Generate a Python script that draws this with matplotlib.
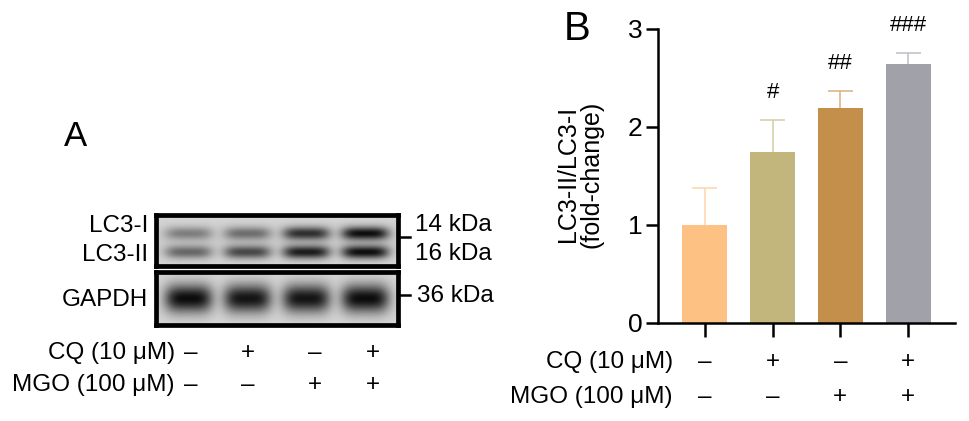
import numpy as np
import matplotlib
matplotlib.use("Agg")
import matplotlib.pyplot as plt
from matplotlib.colors import to_rgb
from matplotlib.transforms import blended_transform_factory

plt.rcParams['font.family'] = ['Liberation Sans', 'DejaVu Sans']

# ---------------- data ----------------
groups = ['Control', 'CQ', 'MGO', 'CQ+MGO']
cq_signs = ['\u2013', '+', '\u2013', '+']
mgo_signs = ['\u2013', '\u2013', '+', '+']
ratio_mean = [1.00, 1.75, 2.19, 2.64]
ratio_sd = [0.38, 0.32, 0.18, 0.12]
sig_marks = ['', '#', '##', '###']
bar_colors = ['#FDC183', '#C2B67C', '#C48F4B', '#A1A1A9']
yticks = [0, 1, 2, 3]

# blot band intensities (0 = no band, 1 = saturated)
lc3i_int = [0.40, 0.48, 0.80, 0.97]
lc3ii_int = [0.52, 0.68, 0.90, 0.97]
gapdh_int = [0.97, 0.93, 0.93, 0.97]
blot_rows = ['LC3-I', 'LC3-II']
kda_top = ['14 kDa', '16 kDa']
kda_bottom = '36 kDa'

W, H = 969, 421
fig = plt.figure(figsize=(W / 100, H / 100), dpi=100)


def px_axes(x0, y0, x1, y1):
    """axes from pixel box (top-left origin)"""
    return fig.add_axes([x0 / W, 1 - y1 / H, (x1 - x0) / W, (y1 - y0) / H])


def fx(x):
    return x / W


def fy(y):
    return 1 - y / H


def lighten(c, f):
    r = np.array(to_rgb(c))
    return tuple(r + (1 - r) * f)


# ---------------- panel B: bar chart ----------------
ax = px_axes(658, 29, 955, 323)
x = np.arange(len(groups))
ax.bar(x, ratio_mean, width=0.665, color=bar_colors, zorder=2)
cap = 0.185
for xi, m, s, c in zip(x, ratio_mean, ratio_sd, bar_colors):
    ec = lighten(c, 0.3)
    ax.vlines(xi, m, m + s, color=ec, lw=1.1, zorder=1)
    ax.hlines(m + s, xi - cap, xi + cap, color=ec, lw=1.1, zorder=1)
for xi, m, s, t in zip(x, ratio_mean, ratio_sd, sig_marks):
    if t:
        ax.text(xi, m + s + 0.28, t, ha='center', va='center', fontsize=16)
ax.set_xlim(-0.69, 3.69)
ax.set_ylim(0, 3)
ax.set_yticks(yticks)
ax.set_yticklabels([str(v) for v in yticks], fontsize=19)
ax.set_xticks(x)
ax.set_xticklabels([])
for s in ['top', 'right']:
    ax.spines[s].set_visible(False)
for s in ['left', 'bottom']:
    ax.spines[s].set_linewidth(1.8)
ax.tick_params(axis='y', length=9, width=1.8, pad=2)
ax.tick_params(axis='x', length=10, width=1.8)

fig.text(fx(580), fy(174), 'LC3-II/LC3-I\n(fold-change)', rotation=90,
         ha='center', va='center', multialignment='center', fontsize=18,
         linespacing=0.95)
fig.text(fx(577), fy(29), 'B', ha='center', va='center', fontsize=29)

tb = blended_transform_factory(ax.transData, fig.transFigure)
fig.text(fx(673), fy(362), 'CQ (10 \u03bcM)', ha='right', va='center', fontsize=17.5)
fig.text(fx(673), fy(397), 'MGO (100 \u03bcM)', ha='right', va='center', fontsize=17.5)
for xi, a, b in zip(x, cq_signs, mgo_signs):
    ax.text(xi, fy(362), a, transform=tb, ha='center', va='center', fontsize=17.5)
    ax.text(xi, fy(397), b, transform=tb, ha='center', va='center', fontsize=17.5)

# ---------------- panel A: western blot ----------------
def band_image(ax_b, rows, ncols=300, nrows=80):
    xs = np.linspace(-0.55, 3.55, ncols)
    ys = np.linspace(0, 1, nrows)
    X, Y = np.meshgrid(xs, ys)
    img = np.zeros_like(X)
    for yc, hw, ints in rows:
        for i, v in enumerate(ints):
            wx = 0.40
            sx = np.exp(-((X - i) / wx) ** 4)
            sy = np.exp(-((Y - yc) / hw) ** 2)
            img = img + v * sx * sy
    img = np.clip(img, 0, 1)
    bg = 0.86 - 0.06 * np.exp(-((Y - 0.5) / 0.5) ** 2)
    out = bg * (1 - 0.97 * img)
    ax_b.imshow(out, cmap='gray', vmin=0, vmax=1, aspect='auto',
                extent=[-0.55, 3.55, 1, 0], interpolation='bicubic')
    ax_b.set_xlim(-0.55, 3.55)
    ax_b.set_ylim(1, 0)
    ax_b.set_xticks([])
    ax_b.set_yticks([])
    for s in ax_b.spines.values():
        s.set_linewidth(3.4)


ax_t = px_axes(156, 215, 398, 266)
band_image(ax_t, [(0.36, 0.13, lc3i_int), (0.73, 0.13, lc3ii_int)])
ax_g = px_axes(156, 272, 398, 325)
band_image(ax_g, [(0.50, 0.26, gapdh_int)])

fig.text(fx(75), fy(137), 'A', ha='center', va='center', fontsize=25)
fig.text(fx(148), fy(226), blot_rows[0], ha='right', va='center', fontsize=17.5)
fig.text(fx(148), fy(255), blot_rows[1], ha='right', va='center', fontsize=17.5)
fig.text(fx(148), fy(300), 'GAPDH', ha='right', va='center', fontsize=17.5)

fig.text(fx(415), fy(225), kda_top[0], ha='left', va='center', fontsize=17.5)
fig.text(fx(415), fy(254), kda_top[1], ha='left', va='center', fontsize=17.5)
fig.text(fx(417), fy(296), kda_bottom, ha='left', va='center', fontsize=17.5)
fig.add_artist(plt.Line2D([fx(400), fx(410)], [fy(237), fy(237)], color='k', lw=1.8))
fig.add_artist(plt.Line2D([fx(400), fx(410)], [fy(295), fy(295)], color='k', lw=1.8))

lane_px = [191, 248, 315, 373]
fig.text(fx(175), fy(353), 'CQ (10 \u03bcM)', ha='right', va='center', fontsize=17.5)
fig.text(fx(175), fy(385), 'MGO (100 \u03bcM)', ha='right', va='center', fontsize=17.5)
for lx, a, b in zip(lane_px, cq_signs, mgo_signs):
    fig.text(fx(lx), fy(353), a, ha='center', va='center', fontsize=17.5)
    fig.text(fx(lx), fy(385), b, ha='center', va='center', fontsize=17.5)

fig.savefig('out.png', dpi=100)
